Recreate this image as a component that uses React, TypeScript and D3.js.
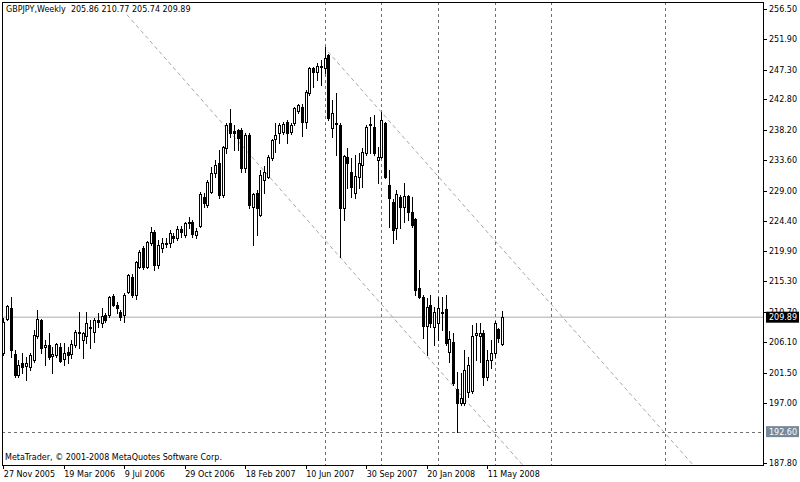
import React from 'react';
import * as d3 from 'd3';

const titleText = 'GBPJPY,Weekly';
const lastOHLC = [205.86, 210.77, 205.74, 209.89];
const copyright = 'MetaTrader, © 2001-2008 MetaQuotes Software Corp.';

const opens = [204.48,209.62,211.29,204.33,201.15,202.97,202.51,202.36,203.42,207.05,209.47,205.39,205.69,204.03,204.18,205.39,203.57,204.63,204.33,205.69,207.66,206.45,207.05,208.41,207.66,209.47,209.02,210.23,210.23,213.10,211.74,210.68,210.23,213.71,215.98,213.25,217.49,220.37,217.49,221.12,222.78,217.79,220.37,221.12,221.12,222.18,221.88,223.24,222.33,224.30,224.30,222.33,223.69,228.08,226.87,228.84,231.71,233.23,228.38,235.50,239.28,238.07,238.22,238.22,232.47,237.46,226.57,228.69,225.36,230.65,231.11,233.98,236.86,237.76,237.92,239.43,237.92,239.28,241.09,241.70,239.43,243.82,247.60,246.99,247.90,247.60,249.57,238.52,239.28,238.97,226.42,234.13,231.86,228.69,231.11,232.92,234.74,239.13,238.67,233.68,234.13,239.28,229.90,227.32,223.39,228.08,226.57,228.23,225.81,224.75,214.31,212.95,208.56,211.74,208.41,209.02,210.68,211.14,204.63,206.14,199.03,196.92,196.92,198.58,198.73,207.20,207.05,207.51,200.85,203.42,204.48,208.11,205.86];
const highs = [209.77,211.74,212.95,204.93,203.42,204.48,203.87,204.48,207.96,210.99,209.62,206.45,207.51,205.39,205.99,205.99,205.99,205.39,206.45,207.96,210.68,207.66,210.68,209.47,209.77,210.53,211.29,210.53,213.10,213.41,212.19,210.99,213.56,216.43,216.43,218.40,220.06,220.67,221.42,223.54,223.09,221.58,221.88,221.88,223.09,222.63,223.69,223.69,224.30,225.06,224.60,223.39,228.84,228.69,230.65,232.62,233.68,235.19,235.80,239.28,241.40,238.97,238.37,238.52,237.76,237.76,228.69,229.14,232.17,232.77,234.44,236.86,239.28,239.28,239.43,239.73,239.28,241.70,242.15,242.15,244.27,247.75,247.75,248.35,248.81,250.78,249.72,242.76,243.82,239.28,234.44,235.50,233.98,234.44,234.74,235.50,238.97,240.19,240.49,235.65,240.94,239.43,232.17,227.78,229.14,228.38,230.20,228.38,228.08,224.90,217.04,213.25,212.80,213.25,211.44,212.95,212.95,213.25,207.81,207.51,201.61,201.45,204.93,203.87,208.72,209.02,209.02,207.96,204.93,206.45,209.32,208.26,210.77];
const lows = [204.18,209.47,203.87,200.85,200.85,201.45,200.40,201.91,203.12,206.75,204.48,202.66,203.57,201.45,203.87,203.12,202.66,202.97,203.72,205.39,205.24,203.72,205.99,205.24,206.14,208.41,208.41,209.17,209.93,211.59,210.53,209.47,209.17,213.56,212.95,212.65,217.34,217.19,217.34,220.82,217.04,217.34,219.76,220.52,220.52,221.27,221.58,222.03,222.03,223.39,222.03,221.88,223.54,226.57,226.57,228.69,231.11,227.93,228.08,234.74,237.16,235.19,235.19,231.86,231.86,226.42,220.82,222.33,225.21,228.69,230.96,233.68,234.89,236.25,237.61,236.25,237.61,238.97,240.79,237.31,238.52,243.51,244.72,245.78,245.03,246.84,239.73,237.16,234.44,219.00,224.60,229.44,228.08,227.93,229.44,229.59,234.44,234.74,234.44,230.20,233.98,230.96,223.54,221.12,221.73,223.39,224.30,224.60,223.54,213.25,212.80,206.75,204.18,208.41,205.69,206.45,207.96,205.69,203.12,199.64,192.60,196.61,196.61,197.82,198.43,203.42,203.12,199.64,200.40,202.21,203.87,206.14,205.74];
const closes = [209.17,211.59,204.93,201.15,202.66,202.36,202.97,204.18,207.20,209.62,205.24,205.69,203.87,204.33,205.84,203.27,204.48,204.18,205.84,207.66,207.51,207.51,209.02,208.26,209.47,209.17,210.08,209.47,212.95,211.74,211.29,209.93,213.25,216.28,213.25,218.25,219.76,217.49,221.27,222.78,217.79,220.82,221.12,220.97,222.63,221.88,223.24,222.78,224.15,224.15,222.48,222.94,228.53,227.17,230.35,231.71,232.92,228.38,235.65,238.97,237.76,237.76,237.01,232.47,237.46,226.87,228.53,226.42,231.41,231.86,234.13,236.70,237.46,238.97,239.13,237.76,238.97,241.55,242.00,239.43,243.97,247.60,246.99,247.90,247.75,249.11,240.04,240.79,239.13,226.42,234.29,233.23,229.59,231.26,233.23,234.89,238.67,238.97,234.74,234.13,239.73,231.11,227.93,223.09,228.53,226.57,228.23,225.81,223.85,214.01,212.95,208.56,211.44,209.02,210.68,211.29,210.53,205.99,206.60,199.94,196.92,197.67,201.91,202.66,207.05,207.51,207.51,200.85,203.42,204.48,209.02,206.75,209.89];

const dateLabels = ['27 Nov 2005', '19 Mar 2006', '9 Jul 2006', '29 Oct 2006', '18 Feb 2007', '10 Jun 2007', '30 Sep 2007', '20 Jan 2008', '11 May 2008'];
const dateLabelBars = [0, 16, 32, 48, 64, 80, 96, 112, 128];
const priceTicks = [256.5, 251.9, 247.3, 242.8, 238.2, 233.6, 229.0, 224.4, 219.9, 215.3, 210.7, 206.1, 201.5, 197.0, 187.8];
const verticalLineBars = [85, 100, 115, 130, 145, 175];
const horizontalLevel = 192.6;
const trendLineStartBars = [32.7, 85.9];
const trendLineStartPrices = [255.6, 250.0];
const trendLineEndBars = [136.7, 175];
const trendLineEndPrices = [188.0, 192.4];

const FONT = "Tahoma, 'DejaVu Sans', sans-serif";

export default function App() {
  const W = 800, H = 482;
  const L = 2, T = 2, R = 764, B = 466;
  const x = d3.scaleLinear().domain([0, 200]).range([3.3, 759.3]);
  const y = d3.scaleLinear().domain([187.8, 256.5]).range([463.4, 8.7]);
  const snap = (v: number) => Math.round(v) + 0.5;

  const bars = opens.map((o, i) => ({ i, o, h: highs[i], l: lows[i], c: closes[i] }));

  const trend = trendLineStartBars.map((b1, k) => {
    const p1 = trendLineStartPrices[k];
    const b2 = trendLineEndBars[k];
    const p2 = trendLineEndPrices[k];
    const slope = (p2 - p1) / (b2 - b1);
    const bEnd = 200;
    return { x1: x(b1), y1: y(p1), x2: x(bEnd), y2: y(p1 + slope * (bEnd - b1)) };
  });

  return (
    <svg width={W} height={H} style={{ position: 'absolute', left: 0, top: 0, background: '#fff' }}
      fontFamily={FONT} fontSize={8}>
      <defs>
        <clipPath id="plotClip">
          <rect x={L} y={T} width={R - L} height={B - T} />
        </clipPath>
      </defs>
      <rect x={0} y={0} width={W} height={H} fill="#fff" />
      <g clipPath="url(#plotClip)">
        {/* bid line */}
        <line x1={L} x2={R} y1={y(lastOHLC[3])} y2={y(lastOHLC[3])} stroke="#c8c8c8" strokeWidth={1.5} />
        {/* vertical lines */}
        {verticalLineBars.map((b) => (
          <line key={'v' + b} x1={snap(x(b))} x2={snap(x(b))} y1={T} y2={B} stroke="#707070" strokeDasharray="3,3" strokeWidth={1} />
        ))}
        {/* horizontal level */}
        <line x1={L} x2={R} y1={snap(y(horizontalLevel))} y2={snap(y(horizontalLevel))} stroke="#707070" strokeDasharray="3,3" strokeWidth={1} />
        {/* trend lines */}
        {trend.map((t, k) => (
          <line key={'t' + k} x1={t.x1} y1={t.y1} x2={t.x2} y2={t.y2} stroke="#a8a8a8" strokeDasharray="4,3" strokeWidth={1} />
        ))}
        {/* candles */}
        {bars.map((d) => {
          const cx = Math.round(x(d.i));
          const top = Math.round(y(Math.max(d.o, d.c)));
          const bot = Math.round(y(Math.min(d.o, d.c)));
          const bull = d.c >= d.o;
          return (
            <g key={d.i}>
              <line x1={cx + 0.5} x2={cx + 0.5} y1={Math.round(y(d.h))} y2={Math.round(y(d.l)) + 1} stroke="#000" strokeWidth={1} />
              {bot - top >= 1 ? (
                <rect x={cx - 0.5} y={top + 0.5} width={2} height={bot - top} fill={bull ? '#fff' : '#000'} stroke="#000" strokeWidth={1} />
              ) : (
                <line x1={cx - 1} x2={cx + 2} y1={top + 0.5} y2={top + 0.5} stroke="#000" strokeWidth={1} />
              )}
            </g>
          );
        })}
      </g>
      {/* frame */}
      <rect x={L + 0.5} y={T + 0.5} width={R - L - 1} height={B - T - 1} fill="none" stroke="#000" strokeWidth={1} />
      {/* header */}
      <text x={6} y={12} fill="#000">{titleText}{'\u00a0\u00a0'}{lastOHLC.map((v) => v.toFixed(2)).join(' ')}</text>
      <text x={5} y={460} fill="#000">{copyright}</text>
      {/* price axis */}
      {priceTicks.map((p) => (
        <g key={'p' + p}>
          <line x1={R} x2={R + 3} y1={snap(y(p))} y2={snap(y(p))} stroke="#000" />
          <text x={769} y={y(p) + 3} fill="#000">{p.toFixed(2)}</text>
        </g>
      ))}
      <rect x={766} y={y(lastOHLC[3]) - 5.5} width={33} height={11} fill="#000" />
      <text x={769} y={y(lastOHLC[3]) + 3} fill="#fff">{lastOHLC[3].toFixed(2)}</text>
      <rect x={766} y={y(horizontalLevel) - 5.5} width={33} height={11} fill="#778899" />
      <text x={769} y={y(horizontalLevel) + 3} fill="#fff">{horizontalLevel.toFixed(2)}</text>
      {/* date axis */}
      {dateLabelBars.map((b, k) => (
        <g key={'d' + b}>
          <line x1={snap(x(b))} x2={snap(x(b))} y1={B} y2={B + 3} stroke="#000" />
          <text x={x(b) + 0.5} y={477} fill="#000">{dateLabels[k]}</text>
        </g>
      ))}
    </svg>
  );
}
